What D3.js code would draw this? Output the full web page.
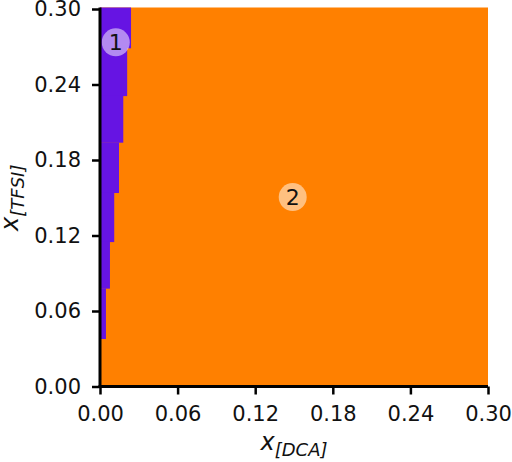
<!DOCTYPE html>
<html>
<head>
<meta charset="utf-8">
<script src="https://cdn.jsdelivr.net/npm/d3@7"></script>
<style>
  body { margin: 0; background: #fff; }
  svg { display: block; }
  text { font-family: "DejaVu Sans", sans-serif; }
</style>
</head>
<body>
<svg id="chart" width="512" height="462"></svg>
<script>
// ---- data ----
const xTicks = [0.00, 0.06, 0.12, 0.18, 0.24, 0.30];
const yTicks = [0.00, 0.06, 0.12, 0.18, 0.24, 0.30];
// purple region (phase 1): bands in x_[TFSI], extending from x_[DCA]=0 to boundary
const bandTop    = [0.300, 0.269, 0.231, 0.194, 0.154, 0.115, 0.078, 0.038];
const bandBottom = [0.269, 0.231, 0.194, 0.154, 0.115, 0.078, 0.038, 0.000];
const bandBoundary = [0.024, 0.021, 0.018, 0.0147, 0.011, 0.0077, 0.0046, 0.0];
const regionLabels = ["1", "2"];
const labelX = [0.0122, 0.149];
const labelY = [0.2735, 0.1505];
const regionColors = ["#6614e3", "#ff8000"];

// ---- layout ----
const svg = d3.select("#chart");
const mLeft = 100, mRight = 488, mTop = 9, mBottom = 386.5;
const x = d3.scaleLinear().domain([0, 0.30]).range([mLeft, mRight]);
const y = d3.scaleLinear().domain([0, 0.30]).range([mBottom, mTop]);

// phase 2 background
svg.append("rect")
  .attr("x", x(0)).attr("y", y(0.30) - 1.5)
  .attr("width", x(0.30) - x(0)).attr("height", y(0) - y(0.30) + 1.5)
  .attr("fill", regionColors[1]);

// phase 1 bands
svg.selectAll("rect.band")
  .data(bandTop.map((t, i) => ({t, b: bandBottom[i], w: bandBoundary[i]})))
  .enter().append("rect")
  .attr("class", "band")
  .attr("x", x(0))
  .attr("y", (d, i) => y(d.t) - (i === 0 ? 1.5 : 0))
  .attr("width", d => x(d.w) - x(0))
  .attr("height", (d, i) => y(d.b) - y(d.t) + 0.3 + (i === 0 ? 1.5 : 0))
  .attr("fill", regionColors[0]);

// region labels
regionLabels.forEach((lab, i) => {
  const g = svg.append("g").attr("transform", `translate(${x(labelX[i])},${y(labelY[i])})`);
  g.append("circle").attr("r", 14).attr("fill", "#ffffff").attr("fill-opacity", 0.5);
  g.append("text").text(lab)
    .attr("text-anchor", "middle").attr("dy", "0.36em")
    .attr("font-size", 22).attr("fill", "#111");
});

// axes
const xAxis = d3.axisBottom(x).tickValues(xTicks).tickFormat(d3.format(".2f")).tickSizeOuter(0).tickSize(8).tickPadding(12);
const yAxis = d3.axisLeft(y).tickValues(yTicks).tickFormat(d3.format(".2f")).tickSizeOuter(0).tickSize(8).tickPadding(11);

const gx = svg.append("g").attr("transform", `translate(0,${mBottom})`).call(xAxis);
const gy = svg.append("g").attr("transform", `translate(${mLeft},0)`).call(yAxis);
[gx, gy].forEach(g => {
  g.select(".domain").attr("stroke", "#000").attr("stroke-width", 3);
  g.selectAll(".tick line").attr("stroke", "#000").attr("stroke-width", 2.5);
  g.selectAll(".tick text").attr("font-size", 21).attr("fill", "#111")
    .attr("font-family", "DejaVu Sans, sans-serif");
});
gx.select(".domain").attr("d", `M${mLeft - 1.5},0H${mRight}`);
gy.select(".domain").attr("d", `M0,${mTop - 1.5}V${mBottom + 1.5}`);

// axis titles
const xt = svg.append("text")
  .attr("x", (mLeft + mRight) / 2).attr("y", 450)
  .attr("text-anchor", "middle").attr("font-size", 24).attr("fill", "#111");
xt.append("tspan").attr("font-style", "italic").text("x");
xt.append("tspan").attr("font-style", "italic").attr("font-size", 18).attr("dy", 6).text("[DCA]");

const yt = svg.append("text")
  .attr("transform", `translate(18,${(mTop + mBottom) / 2}) rotate(-90)`)
  .attr("text-anchor", "middle").attr("font-size", 24).attr("fill", "#111");
yt.append("tspan").attr("font-style", "italic").text("x");
yt.append("tspan").attr("font-style", "italic").attr("font-size", 18).attr("dy", 6).text("[TFSI]");
</script>
</body>
</html>
